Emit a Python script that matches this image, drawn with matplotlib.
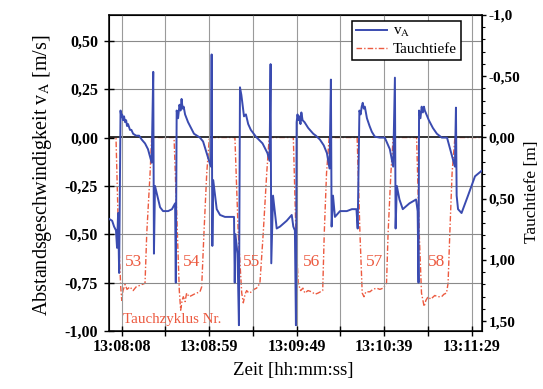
import numpy as np
from matplotlib import pyplot as plt
from matplotlib.ticker import FixedLocator, MultipleLocator, FuncFormatter

plt.rcParams['font.family'] = ['Liberation Serif', 'DejaVu Serif']
plt.rcParams['mathtext.fontset'] = 'stix'

# time in seconds after 13:08:08
t_v = [-7.3, -5.5, -4.4, -3.3, -2.7, -2.1, -1.5, -0.7, -0.3, 0.2, 0.7, 1.3, 1.9, 2.5, 3.0, 3.6,
       4.7, 5.5, 6.5, 8.2, 9.9, 11.4, 13.3, 15.0, 17.1, 18.0, 18.4, 19.0, 21.9, 23.6, 26.5, 28.7, 30.5,
       30.9, 31.4, 32.2, 33.0, 33.6, 34.2, 34.8, 35.4, 36.2, 37.9, 39.6, 41.3, 43.0, 44.7, 46.5, 48.2,
       49.9, 51.0, 51.4, 51.8, 52.3, 54.3, 56.2, 59.0, 61.9, 64.2,
       64.6, 65.0, 66.2, 67.0, 67.6, 68.4, 69.2, 69.9, 71.0, 72.3, 73.8, 76.7, 80.5, 83.3, 84.5,
       85.1, 85.5, 86.5, 88.6, 90.5, 94.3, 97.2, 98.1, 99.0,
       99.6, 100.0, 100.5, 101.0, 101.6, 102.2, 102.7, 103.4, 104.5, 106.6, 109.5, 111.0, 113.3,
       115.5, 117.3, 118.8, 119.6, 120.0, 120.8, 121.9, 124.8, 128.7, 131.6, 134.2,
       134.9, 135.9, 136.6, 137.2, 137.8, 138.4, 139.0, 140.2, 141.7, 143.0, 144.7, 147.5, 150.4,
       153.3, 155.2, 156.2, 156.6, 157.3, 158.8, 160.7, 164.5, 168.3, 169.2,
       169.7, 170.0, 170.8, 171.5, 172.2, 172.8, 173.3, 174.2, 175.6, 177.9, 180.2, 183.0, 186.0,
       189.0, 190.5, 191.1, 191.5, 192.3, 194.3, 198.0, 202.0, 206.0]
v_a = [-0.42, -0.43, -0.46, -0.48, -0.57, -0.39, -0.70, 0.14, 0.11, 0.12, 0.09, 0.11, 0.08, 0.09, 0.06, 0.07,
       0.04, 0.04, 0.02, 0.01, 0.01, -0.01, -0.03, -0.06, -0.13, 0.34, -0.60, -0.25, -0.36, -0.38, -0.38, -0.37, -0.34,
       -0.75, 0.14, 0.10, 0.17, 0.14, 0.20, 0.15, 0.16, 0.12, 0.08, 0.05, 0.02, 0.01, 0.00, -0.02, -0.07,
       -0.12, -0.15, 0.43, -0.56, -0.22, -0.37, -0.40, -0.41, -0.41, -0.41,
       -0.75, -0.50, -0.60, -0.97, 0.26, 0.22, 0.16, 0.11, 0.12, 0.07, 0.04, 0.005, -0.03, -0.08, -0.12,
       0.38, -0.65, -0.30, -0.47, -0.46, -0.43, -0.40, -0.46, -0.48,
       -0.97, 0.08, 0.12, 0.09, 0.11, 0.07, 0.13, 0.09, 0.08, 0.05, 0.02, 0.01, -0.01,
       -0.04, -0.08, -0.16, 0.30, -0.46, -0.30, -0.41, -0.38, -0.38, -0.37, -0.37,
       -0.47, 0.14, 0.12, 0.16, 0.18, 0.15, 0.16, 0.10, 0.06, 0.03, 0.005, 0.00, 0.00,
       -0.06, -0.15, 0.31, -0.47, -0.25, -0.32, -0.37, -0.34, -0.32, -0.38,
       -0.75, 0.14, 0.10, 0.16, 0.13, 0.16, 0.14, 0.12, 0.09, 0.05, 0.02, 0.00, 0.00,
       -0.10, -0.15, 0.155, -0.30, -0.37, -0.39, -0.30, -0.20, -0.17]

t_d = [-7.3, -3.3, -1.9, -0.6, 0.0, 0.7, 1.9, 3.0, 4.7, 6.5, 8.2, 9.9, 11.6, 13.3, 14.3, 16.2, 17.1,
       29.9, 31.8, 32.9, 33.7, 34.5, 35.2, 36.2, 37.1, 38.5, 40.0, 41.3, 42.9, 44.7, 45.7, 47.0, 48.6, 50.1,
       64.7, 66.6, 68.6, 69.5, 70.5, 71.4, 72.7, 74.3, 75.6, 77.1, 79.0, 80.9, 82.9, 84.3,
       98.1, 99.6, 100.9, 102.3, 103.6, 104.7, 106.5, 108.6, 110.5, 112.3, 114.9, 115.8, 117.1, 118.6,
       134.6, 136.2, 137.5, 138.5, 139.6, 141.9, 143.6, 145.7, 147.6, 149.5, 151.4, 152.3, 153.9, 155.2,
       168.6, 170.1, 171.4, 172.9, 173.9, 175.2, 176.7, 179.0, 180.7, 182.9, 184.2, 185.7, 186.6, 187.6,
       188.9, 190.5, 206.0]
tiefe = [0.0, 0.0, 0.78, 1.22, 1.33, 1.25, 1.20, 1.24, 1.22, 1.25, 1.22, 1.21, 1.20, 1.19, 0.78, 0.29, 0.0,
         0.0, 0.78, 1.25, 1.41, 1.33, 1.30, 1.34, 1.27, 1.30, 1.29, 1.28, 1.27, 1.26, 1.22, 0.78, 0.29, 0.0,
         0.0, 0.78, 1.27, 1.35, 1.28, 1.25, 1.27, 1.26, 1.24, 1.23, 1.19, 0.78, 0.29, 0.0,
         0.0, 0.78, 1.19, 1.25, 1.23, 1.27, 1.25, 1.26, 1.28, 1.27, 1.25, 0.78, 0.29, 0.0,
         0.0, 0.78, 1.27, 1.30, 1.26, 1.26, 1.24, 1.23, 1.24, 1.23, 1.19, 0.78, 0.29, 0.0,
         0.0, 0.78, 1.27, 1.38, 1.33, 1.30, 1.32, 1.29, 1.30, 1.30, 1.28, 1.27, 1.19, 0.78,
         0.29, 0.0, 0.0]

zyklen = [53, 54, 55, 56, 57, 58]
zyklus_t = [6.5, 40.0, 74.3, 108.6, 144.7, 180.0]

x_ticks = [0, 25, 50, 75, 100, 125, 150, 175, 200]
x_labels = ['13:08:08', '', '13:08:59', '', '13:09:49', '', '13:10:39', '', '13:11:29']

blue = '#3a4bb0'
red = '#ec5a40'

fig = plt.figure(figsize=(5.43, 3.89), dpi=100)
ax = fig.add_axes([109/543, 58/389, 373/543, 316/389])
ax2 = ax.twinx()

# grid
for xt in x_ticks:
    ax.axvline(xt, color='#9a9a9a', lw=0.8, zorder=0)
for yt in [0.5, 0.25, -0.25, -0.5, -0.75]:
    ax.axhline(yt, color='#8a8a8a', lw=0.8, zorder=0)

ax.plot(t_v, v_a, color=blue, lw=1.4, label=r'v$_\mathrm{A}$', zorder=3)
ax2.plot(t_d, tiefe, color=red, lw=1.0, ls=(0, (4, 1.5, 1, 1.5)), label='Tauchtiefe', zorder=2)
ax2.axhline(0, color='#222222', lw=1.3, zorder=3)
ax.set_zorder(ax2.get_zorder() + 1)
ax.patch.set_visible(False)

ax.set_xlim(-7.3, 206)
ax.set_ylim(-1.0, 0.634)
ax2.set_ylim(1.58, -1.0)

ax.xaxis.set_major_locator(FixedLocator(x_ticks))
ax.set_xticklabels(x_labels)
ax.set_yticks([-1.0, -0.75, -0.5, -0.25, 0.0, 0.25, 0.5])
ax.yaxis.set_major_formatter(FuncFormatter(lambda v, p: f'{v:.2f}'.replace('.', ',')))
ax2.set_yticks([-1.0, -0.5, 0.0, 0.5, 1.0, 1.5])
ax2.yaxis.set_minor_locator(MultipleLocator(0.1))
ax2.yaxis.set_major_formatter(FuncFormatter(
    lambda v, p: '-1,0' if v <= -0.99 else f'{v:.2f}'.replace('.', ',')))

ax.tick_params(axis='x', direction='inout', length=7, width=1, labelsize=11.5, pad=2)
ax.tick_params(axis='y', direction='inout', length=7, width=1, labelsize=11.5, pad=4.5)
ax2.tick_params(axis='y', which='major', direction='out', length=3, width=1, labelsize=11, pad=1.5)
ax2.tick_params(axis='y', which='minor', direction='out', length=2, width=0.8)
for lab in ax.get_xticklabels() + ax.get_yticklabels() + ax2.get_yticklabels():
    lab.set_fontweight('bold')

for sp in ax.spines.values():
    sp.set_linewidth(1.1)

for n, tx in zip(zyklen, zyklus_t):
    ax.text(tx, -0.645, str(n), color=red, fontsize=12.5, ha='center', va='center')
ax.text(0.7, -0.943, 'Tauchzyklus Nr.', color=red, fontsize=10.8, ha='left', va='center')

h1, l1 = ax.get_legend_handles_labels()
h2, l2 = ax2.get_legend_handles_labels()
leg = ax.legend(h1 + h2, l1 + l2, loc='upper right', bbox_to_anchor=(0.955, 0.997),
                fontsize=11, frameon=True, fancybox=False, framealpha=1,
                handlelength=2.0, borderpad=0.25, labelspacing=0.2, handletextpad=0.4,
                borderaxespad=0.3)
leg.get_frame().set_edgecolor('black')
leg.get_frame().set_linewidth(1.1)

fig.text(42.5/543, 1 - 175/389, r'Abstandsgeschwindigkeit v$_\mathrm{A}$ [m/s]', rotation=90,
         fontsize=14.5, ha='center', va='center')
fig.text(532/543, 1 - 192/389, 'Tauchtiefe [m]', rotation=90, fontsize=12.5, ha='center', va='center')
fig.text(293/543, 1 - 370/389, 'Zeit [hh:mm:ss]', fontsize=13.5, ha='center', va='center')

plt.savefig('out.png', dpi=100)
